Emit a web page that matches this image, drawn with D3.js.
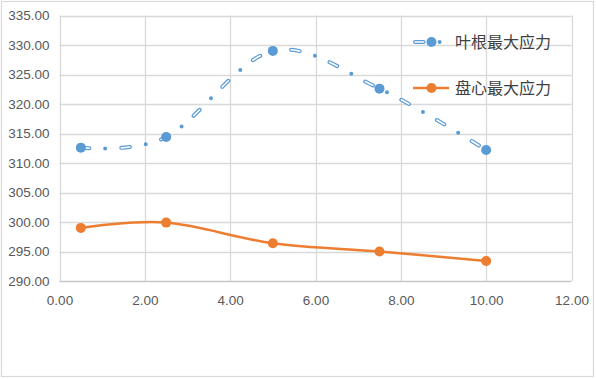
<!DOCTYPE html>
<html><head><meta charset="utf-8">
<script src="https://cdn.jsdelivr.net/npm/d3@7"></script>
<style>body{margin:0;background:#fff}svg{display:block}</style>
</head><body>
<script>
const xValues = [0.5, 2.5, 5, 7.5, 10];
const bladeRoot = [312.6, 314.4, 329.0, 322.6, 312.2];
const discCenter = [299.0, 299.9, 296.4, 295.0, 293.4];
const seriesNames = ["叶根最大应力", "盘心最大应力"];
const xTicks = [0, 2, 4, 6, 8, 10, 12];
const yTicks = [290, 295, 300, 305, 310, 315, 320, 325, 330, 335];

const W = 596, H = 379;
const svg = d3.select("body").append("svg").attr("width", W).attr("height", H);
svg.append("rect").attr("x", 1.5).attr("y", 1.5).attr("width", 592).attr("height", 375)
  .attr("fill", "#fff").attr("stroke", "#d9d9d9").attr("stroke-width", 1.2);

const x = d3.scaleLinear().domain([0, 12]).range([59.5, 571.5]);
const y = d3.scaleLinear().domain([290, 335]).range([281, 15.5]);

// gridlines
const g = svg.append("g");
g.selectAll(".vg").data(xTicks).join("line")
  .attr("x1", d => Math.round(x(d)) + 0.5).attr("x2", d => Math.round(x(d)) + 0.5)
  .attr("y1", y(335)).attr("y2", y(290))
  .attr("stroke", "#d9d9d9").attr("stroke-width", 1.3);
g.selectAll(".hg").data(yTicks).join("line")
  .attr("x1", x(0)).attr("x2", x(12))
  .attr("y1", d => Math.round(y(d)) + 0.5).attr("y2", d => Math.round(y(d)) + 0.5)
  .attr("stroke", d => d === 290 ? "#c8c8c8" : "#d9d9d9").attr("stroke-width", 1.3);

// axes labels via d3 axes
const fmt = d3.format(".2f");
const yAxis = svg.append("g").attr("transform", `translate(${x(0)},0)`)
  .call(d3.axisLeft(y).tickValues(yTicks).tickFormat(fmt).tickSize(0).tickPadding(10));
const xAxis = svg.append("g").attr("transform", `translate(0,${y(290)})`)
  .call(d3.axisBottom(x).tickValues(xTicks).tickFormat(fmt).tickSize(0).tickPadding(14));
[yAxis, xAxis].forEach(a => {
  a.select(".domain").remove();
  a.selectAll("text").attr("fill", "#595959")
    .style("font-family", "'Liberation Sans', Arial, sans-serif").style("font-size", "13.5px");
});

const curve = d3.curveCatmullRom.alpha(0);
const line = d3.line().x(d => x(d[0])).y(d => y(d[1])).curve(curve);
const blueData = xValues.map((v, i) => [v, bladeRoot[i]]);
const orangeData = xValues.map((v, i) => [v, discCenter[i]]);
const blue = "#5b9bd5", orange = "#ed7d31";

// orange series
svg.append("path").attr("d", line(orangeData)).attr("fill", "none")
  .attr("stroke", orange).attr("stroke-width", 2.5).attr("stroke-linejoin", "round");
svg.selectAll(".om").data(orangeData).join("circle")
  .attr("cx", d => x(d[0])).attr("cy", d => y(d[1])).attr("r", 5).attr("fill", orange);

// blue series: hollow dashes + dots
const dashOuter = "8.6,16,0,16";
const dashInner = "8.6,32";
function blueLine(sel, d) {
  sel.append("path").attr("d", d).attr("fill", "none")
    .attr("stroke", blue).attr("stroke-width", 4).attr("stroke-linecap", "round")
    .attr("stroke-dasharray", dashOuter);
  sel.append("path").attr("d", d).attr("fill", "none")
    .attr("stroke", "#fff").attr("stroke-width", 1.6).attr("stroke-linecap", "round")
    .attr("stroke-dasharray", dashInner);
}
blueLine(svg.append("g"), line(blueData));
svg.selectAll(".bm").data(blueData).join("circle")
  .attr("cx", d => x(d[0])).attr("cy", d => y(d[1])).attr("r", 5).attr("fill", blue);

// legend
const lg = svg.append("g");
const legendRows = [{name: seriesNames[0], color: blue, y: 42}, {name: seriesNames[1], color: orange, y: 88}];
legendRows.forEach((r, i) => {
  if (i === 0) {
    blueLine(lg, `M415,${r.y}L449,${r.y}`);
  } else {
    lg.append("line").attr("x1", 413).attr("x2", 449).attr("y1", r.y).attr("y2", r.y)
      .attr("stroke", r.color).attr("stroke-width", 2.5);
  }
  lg.append("circle").attr("cx", 431.5).attr("cy", r.y).attr("r", 5).attr("fill", r.color);
  lg.append("text").attr("x", 455).attr("y", r.y).attr("dy", "0.36em")
    .attr("fill", "#404040").style("font-family", "'Noto Sans CJK SC', sans-serif")
    .style("font-size", "16px").text(r.name);
});
</script>
</body></html>
